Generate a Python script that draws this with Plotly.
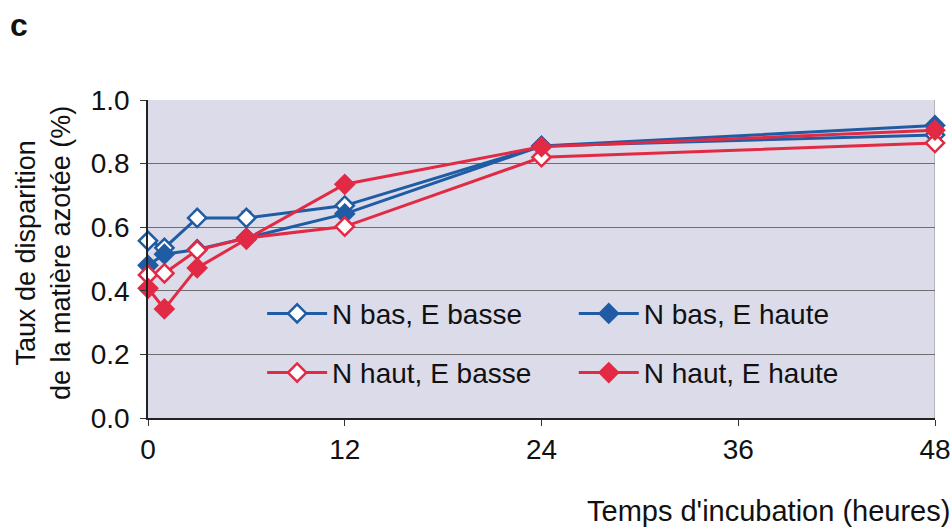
import plotly.graph_objects as go

hours = [0, 1, 3, 6, 12, 24, 48]
n_bas_e_basse = [0.557, 0.535, 0.629, 0.629, 0.668, 0.855, 0.890]
n_bas_e_haute = [0.480, 0.515, 0.530, 0.566, 0.642, 0.855, 0.920]
n_haut_e_basse = [0.450, 0.455, 0.528, 0.566, 0.602, 0.820, 0.865]
n_haut_e_haute = [0.408, 0.343, 0.472, 0.562, 0.735, 0.853, 0.905]

err_bas_basse = [0.0, 0.0, 0.0, 0.02, 0.012, 0.0, 0.0]
err_bas_haute = [0.0, 0.0, 0.0, 0.0, 0.012, 0.0, 0.0]

y_ticks = [0.0, 0.2, 0.4, 0.6, 0.8, 1.0]
x_ticks = [0, 12, 24, 36, 48]

BLUE = "#1f5ca4"
RED = "#e22a45"
BG = "#dcdbea"
FONT = "Liberation Sans, Arial, sans-serif"

fig = go.Figure()

def add(name, y, color, filled, legend, err=None):
    fig.add_trace(go.Scatter(
        x=hours, y=y, name=name, mode="lines+markers", cliponaxis=False,
        line=dict(color=color, width=3),
        marker=dict(symbol="diamond", size=14,
                    color=color if filled else "white",
                    line=dict(color=color, width=2.5)),
        error_y=dict(type="data", array=err, symmetric=False, arrayminus=[0]*len(err),
                     color=color, thickness=1.5, width=5, visible=True) if err else None,
        legend=legend,
    ))

add("N bas, E basse", n_bas_e_basse, BLUE, False, "legend", err_bas_basse)
add("N bas, E haute", n_bas_e_haute, BLUE, True, "legend2", err_bas_haute)
add("N haut, E basse", n_haut_e_basse, RED, False, "legend3")
add("N haut, E haute", n_haut_e_haute, RED, True, "legend4")

leg_common = dict(
    orientation="h", xanchor="left", yanchor="middle",
    bgcolor="rgba(0,0,0,0)", borderwidth=0, itemwidth=60,
    font=dict(family=FONT, size=28, color="#111111"),
)

x1, x2 = 0.145, 0.541
r1, r2 = 0.328, 0.142

fig.update_layout(
    width=952, height=531,
    paper_bgcolor="white", plot_bgcolor=BG,
    margin=dict(l=148, r=17, t=100, b=113, autoexpand=False),
    font=dict(family=FONT, size=28, color="#111111"),
    legend=dict(x=x1, y=r1, **leg_common),
    legend2=dict(x=x2, y=r1, **leg_common),
    legend3=dict(x=x1, y=r2, **leg_common),
    legend4=dict(x=x2, y=r2, **leg_common),
    xaxis=dict(range=[0, 48], tickvals=x_ticks, ticks="outside", ticklen=6,
               tickcolor="#333", showline=True, linecolor="#222", linewidth=1.5,
               showgrid=False, zeroline=False, mirror=False, automargin=False,
               tickfont=dict(size=28), ticklabelstandoff=0),
    yaxis=dict(range=[0, 1.0], tickvals=y_ticks, tickformat=".1f", ticks="outside",
               ticklen=6, tickcolor="#333", showline=True, linecolor="#222", linewidth=1.5,
               showgrid=True, gridcolor="#6e6e6e", gridwidth=1, zeroline=False,
               automargin=False, tickfont=dict(size=28), ticklabelstandoff=5),
    showlegend=True,
)

# legend box (covers gridlines like the original)
fig.add_shape(type="rect", xref="paper", yref="paper",
              x0=(245 - 148) / 787, x1=(880 - 148) / 787,
              y0=(418 - 395) / 318, y1=(418 - 282) / 318,
              fillcolor=BG, line=dict(width=0), layer="between")

# right border of the plot area
fig.add_shape(type="line", xref="x", yref="paper", x0=48, x1=48, y0=0, y1=1,
              line=dict(color="#888888", width=1), layer="between")

fig.add_annotation(text="Taux de disparition<br>de la matière azotée (%)",
                   xref="paper", yref="paper", x=-0.133, y=0.52, textangle=-90,
                   showarrow=False, font=dict(family=FONT, size=27, color="#111111"),
                   xanchor="center", yanchor="middle")
fig.add_annotation(text="Temps d'incubation (heures)", xref="paper", yref="paper",
                   x=1.022, y=-0.292, xanchor="right", yanchor="middle", showarrow=False,
                   font=dict(family=FONT, size=29, color="#111111"))
fig.add_annotation(text="<b>c</b>", xref="paper", yref="paper", x=-0.178, y=1.236,
                   xanchor="left", yanchor="middle", showarrow=False,
                   font=dict(family=FONT, size=32, color="#111111"))

fig.write_html("out.html", config={"displayModeBar": False},
               post_script="document.body.style.margin='0';")
